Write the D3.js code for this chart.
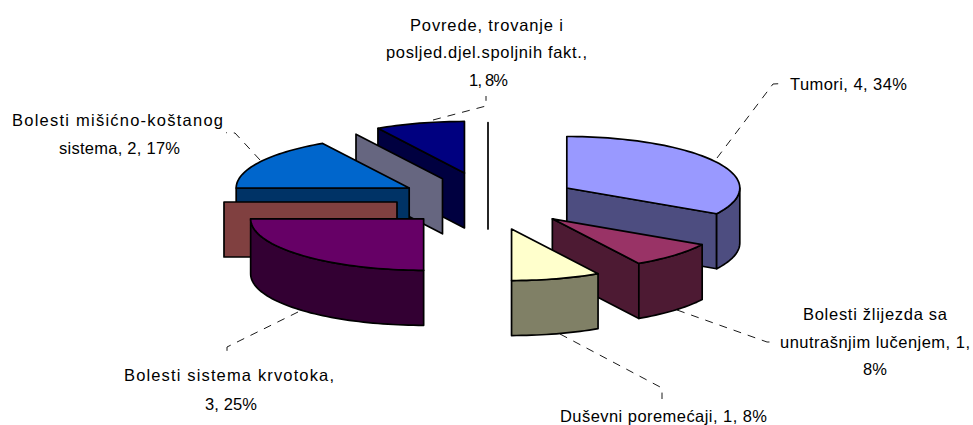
<!DOCTYPE html>
<html><head><meta charset="utf-8">
<script src="https://cdnjs.cloudflare.com/ajax/libs/d3/7.8.5/d3.min.js"></script>
<style>html,body{margin:0;padding:0;background:#fff}svg{display:block}text{font-family:"Liberation Sans",Arial,sans-serif;font-size:16.5px;fill:#000}</style>
</head><body><svg id="c" width="973" height="425"></svg>
<script>
// data (clockwise from 12 o'clock; zero values are drawn as flat walls, as in the source)
const categories = ["Tumori","Bolesti žlijezda sa unutrašnjim lučenjem","Duševni poremećaji","Bolesti sistema krvotoka","(a)","Bolesti mišićno-koštanog sistema","(b)","Povrede, trovanje i posljed.djel.spoljnih fakt.","(c)"];
const values = [4,1,1,3,0,2,0,1,0];
const colors = ["#9999FF","#993366","#FFFFCC","#660066","#FF8080","#0066CC","#CCCCFF","#000080","#FF00FF"];
const sideColors = ["#4D4D80","#4D1A33","#808066","#330033","#804040","#003366","#666680","#000040","#800080"];
const labelLines = [
  ["Povrede, trovanje i","posljed.djel.spoljnih fakt.,","1, 8%"],
  ["Tumori, 4, 34%"],
  ["Bolesti žlijezda sa","unutrašnjim lučenjem, 1,","8%"],
  ["Duševni poremećaji, 1, 8%"],
  ["Bolesti sistema krvotoka,","3, 25%"],
  ["Bolesti mišićno-koštanog","sistema, 2, 17%"]
];
// layout: [left x, baseline y, fitted width] for each label line
const labelBoxes = [
  [[410,30.5,153],[386,58,201],[469,85.5,39]],
  [[790,90,117]],
  [[803,320,144],[780,347.5,190],[863,375,24]],
  [[560,422,207]],
  [[124,381,210],[205,409.5,52]],
  [[12,126,211],[59,154,121]]
];
const leaders = [
  [[433,120],[486,106],[486,96]],
  [[717,158],[773,84],[784,83.5]],
  [[677,310],[767,342],[776,342]],
  [[560,334],[662,388],[662,399]],
  [[298,312],[227,347],[227,357]],
  [[260,160],[235,133],[226,132.7]]
];
const cx=488, cy=202, rx=173, ry=51.5, depth=55, explodeX=91, explodeY=28;
const explodeNudgeY=[0,-3,0,-3,0,0,1,-2,0];

const svg=d3.select("#c");
const slices=d3.pie().sort(null).value((d,i)=>values[i]).startAngle(0).endAngle(2*Math.PI)(categories);
const lineGen=d3.line();
const strokeW=1.7;
const pt=(o,a)=>[o[0]+rx*Math.sin(a), o[1]-ry*Math.cos(a)];
const arcPts=(o,a0,a1)=>{const n=Math.max(1,Math.ceil((a1-a0)/0.03));return d3.range(n+1).map(i=>pt(o,a0+(a1-a0)*i/n));};
const down=p=>[p[0],p[1]+depth];
const poly=(g,pts,fill)=>g.append("path").attr("d",lineGen(pts)+"Z").attr("fill",fill).attr("stroke","#000").attr("stroke-width",strokeW).attr("stroke-linejoin","round");

// back to front
const order=d3.range(slices.length).map(i=>{const m=(slices[i].startAngle+slices[i].endAngle)/2;return {i,m,o:[cx+explodeX*Math.sin(m),cy-explodeY*Math.cos(m)+explodeNudgeY[i]]};})
  .sort((a,b)=>a.o[1]-b.o[1]||a.i-b.i);
const pieG=svg.append("g");
order.forEach(({i,o})=>{
  const s=slices[i],g=pieG.append("g"),side=sideColors[i],a0=s.startAngle,a1=s.endAngle;
  if(Math.sin(a0)<-1e-9 || a0===a1){const p=pt(o,a0);poly(g,[o,p,down(p),down(o)],side);}
  if(Math.sin(a1)>1e-9 && a0!==a1){const p=pt(o,a1);poly(g,[o,p,down(p),down(o)],side);}
  const w0=Math.max(a0,Math.PI/2),w1=Math.min(a1,3*Math.PI/2);
  if(w1>w0){const top=arcPts(o,w0,w1);poly(g,top.concat(top.map(down).reverse()),side);}
  if(a1>a0){poly(g,[o].concat(arcPts(o,a0,a1)),colors[i]);}
});

// leader lines
svg.append("g").selectAll("path").data(leaders).join("path")
  .attr("d",d=>lineGen(d)).attr("fill","none").attr("stroke","#000").attr("stroke-width",0.9).attr("stroke-dasharray","8 7");

// labels
const lg=svg.append("g");
labelLines.forEach((lines,k)=>{
  lines.forEach((l,j)=>{
    const b=labelBoxes[k][j];
    lg.append("text").attr("x",b[0]).attr("y",b[1]).attr("textLength",b[2]).attr("lengthAdjust","spacing").text(l);
  });
});
</script></body></html>
